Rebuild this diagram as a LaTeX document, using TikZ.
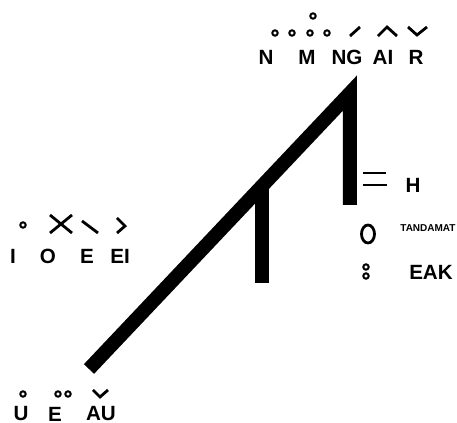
\documentclass[tikz,border=0pt]{standalone}
\usepackage{fontspec}
\setmainfont{Liberation Sans}
\usepackage{tikz}
\usetikzlibrary{shapes.geometric}
\tikzset{
  bar/.style={line width=7pt,line join=miter,line cap=butt},
  mk/.style={line width=1.4pt},
  o/.style={circle,draw,line width=1pt,minimum size=2.7pt,inner sep=0pt},
  lbl/.style={font=\fontsize{10.3}{11}\selectfont\bfseries,inner sep=0pt},
}
\begin{document}
\begin{tikzpicture}[x=0.5pt,y=-0.5pt]
\useasboundingbox (0,0) rectangle (457,423);
\coordinate (base) at (89,369); \coordinate (apex) at (350,93); \coordinate (vbot) at (350,205);
\coordinate (stop) at (262,186); \coordinate (sbot) at (262,283);
\draw[bar] (base)--(apex)--(vbot); \draw[bar] (stop)--(sbot);
\foreach \n/\x/\y/\t in {N/266/57/N,M/307/57/M,NG/347/57/NG,AI/383/57/AI,R/416/57/R,
  I/13/256/I,O/48/256/O,E/87/256/E,EI/120/256/EI,H/413/185/H,EAK/431/272/EAK,
  U/21/414/U,E2/55/414/E,AU/101/414/AU}{\node[lbl] (\n) at (\x,\y){\t};}
\node[font=\fontsize{5}{5}\selectfont\bfseries,inner sep=0pt,anchor=west] (mati) at (400,228){TANDAMAT};
\foreach \n/\x/\y in {c1/275/33,c2/292/33,c3/310/33,c4/327/33,c5/313/16,c6/23/225,
  c7/366/267,c8/366/276,c9/23/394,c10/58/394,c11/68/394}{\node[o] (\n) at (\x,\y){};}
\node[ellipse,draw,line width=1.4pt,minimum width=6.5pt,minimum height=9pt,inner sep=0pt] (ring) at (368,234){};
\draw[mk] (350,36)--(360,27); \draw[mk] (378,36)--(387,27)--(397,36); \draw[mk] (408,27)--(417,35)--(427,27);
\draw[mk] (50,215)--(72,233); \draw[mk] (50,233)--(72,215); \draw[mk] (82,221)--(98,233);
\draw[mk] (117,218)--(125,226)--(117,233);
\draw[mk] (363,173)--(386,173); \draw[mk] (363,185)--(387,185);
\draw[mk] (93,390)--(100,397)--(108,390);
\end{tikzpicture}
\end{document}
